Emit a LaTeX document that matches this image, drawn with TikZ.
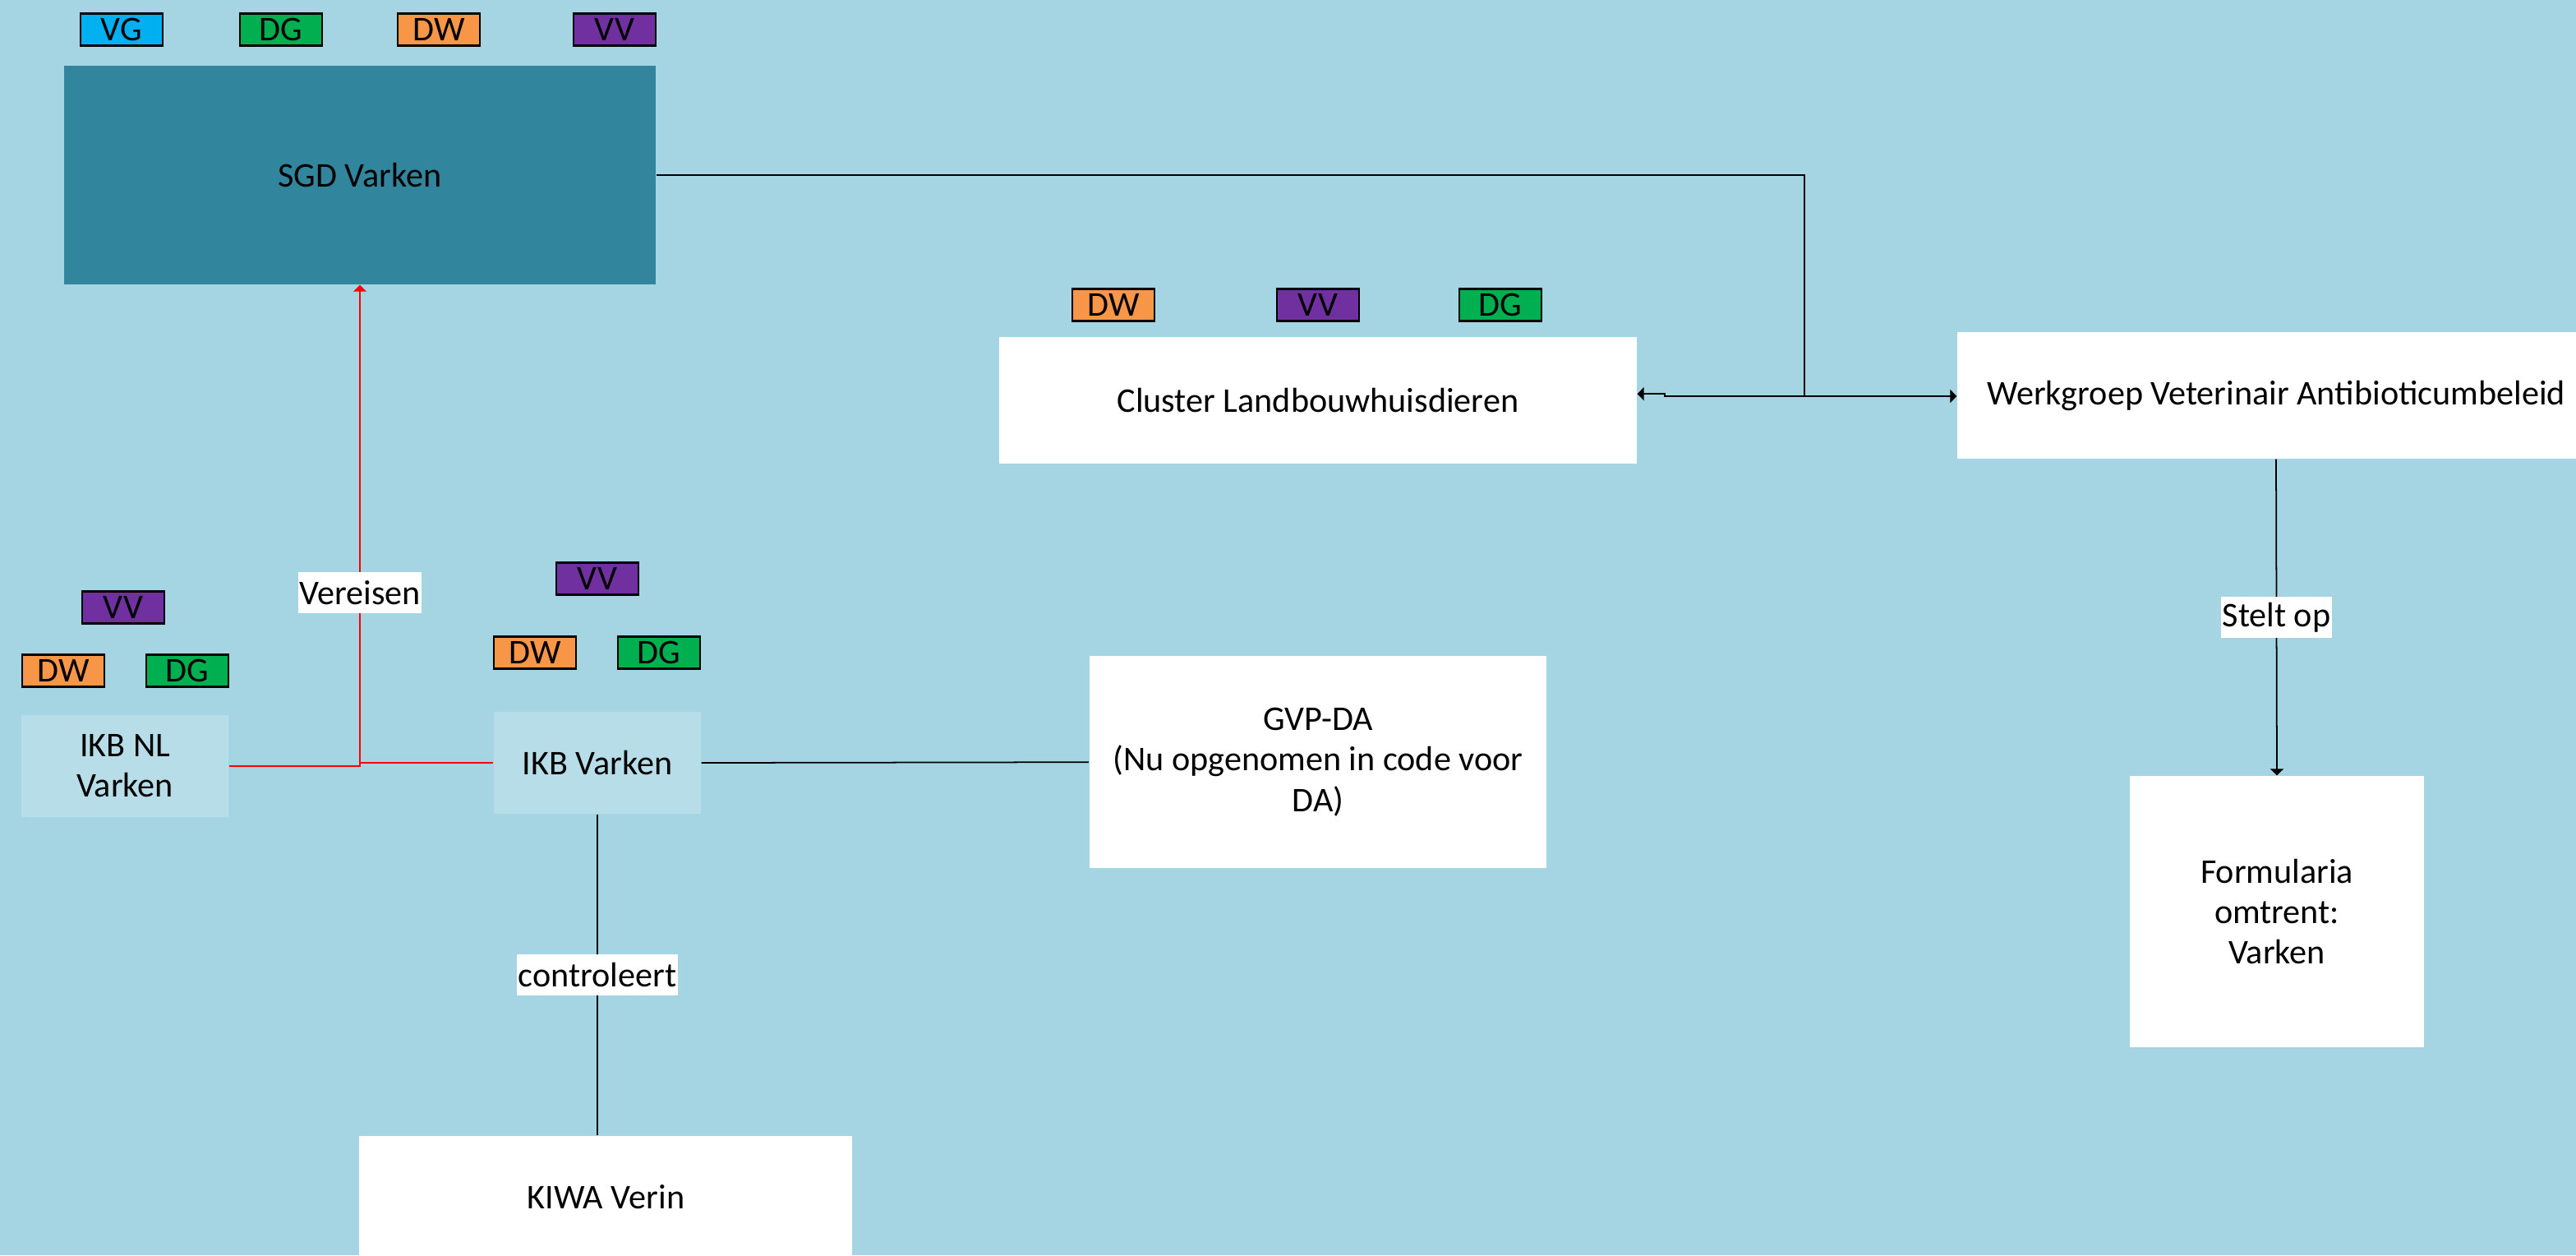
\documentclass[tikz,border=0pt]{standalone}
\usepackage{fontspec}
\setmainfont{Carlito}
\usepackage{tikz}
\usetikzlibrary{positioning, arrows.meta}
\definecolor{bgblue}{HTML}{A5D5E2}
\definecolor{sgdteal}{HTML}{31859C}
\definecolor{boxblue}{HTML}{B7DEE8}
\definecolor{vgcyan}{HTML}{00B0F0}
\definecolor{dggreen}{HTML}{00B050}
\definecolor{dworange}{HTML}{F79646}
\definecolor{vvpurple}{HTML}{7030A0}

\begin{document}
\begin{tikzpicture}[x=0.02cm, y=-0.02cm,
  every node/.style={font=\fontsize{12}{14}\selectfont, align=center},
  box/.style={fill=white, inner sep=0},
  lightbox/.style={fill=boxblue, inner sep=0},
  tag/.style={draw=black, line width=0.6pt, minimum width=1cm, minimum height=0.39cm, inner sep=0},
  lbl/.style={fill=white, inner xsep=0.5pt, inner ysep=0pt, minimum height=0.5cm},
  link/.style={line width=0.5pt},
  tip/.style={-{Triangle[length=0.8mm,width=1.6mm]}}]
\useasboundingbox (0,0) rectangle (1567.5,763.5);
\clip (0,0) rectangle (1567.5,763.5);
\fill[bgblue] (0,0) rectangle (1567.5,763.5);

% boxes
\node[fill=sgdteal, inner sep=0, minimum width=7.2cm, minimum height=2.66cm] (sgd) at (219,106.5) {SGD Varken};
\node[box, minimum width=7.76cm, minimum height=1.54cm] (cluster) at (802,243.5) {Cluster Landbouwhuisdieren};
\node[box, minimum width=7.76cm, minimum height=1.54cm] (werk) at (1385,240.5) {Werkgroep Veterinair Antibioticumbeleid};
\node[box, minimum width=3.58cm, minimum height=3.3cm] (form) at (1385.5,554.5) {Formularia\\omtrent:\\Varken};
\node[lightbox, minimum width=2.52cm, minimum height=1.24cm] (ikbnl) at (76,466) {IKB NL\\Varken};
\node[lightbox, minimum width=2.52cm, minimum height=1.24cm] (ikbv) at (363.5,464) {IKB Varken};
\node[box, minimum width=5.57cm, minimum height=2.58cm] (gvp) at (802,463.6) {GVP-DA\\(Nu opgenomen in code voor\\DA)};
\node[box, minimum width=6cm, minimum height=1.48cm] (kiwa) at (368.7,728) {KIWA Verin};

% tags
\node[tag, fill=vgcyan] (vg0) at (74,18) {VG};
\node[tag, fill=dggreen] (dg0) at (171,18) {DG};
\node[tag, fill=dworange] (dw0) at (267,18) {DW};
\node[tag, fill=vvpurple] (vv0) at (374,18) {VV};

\node[tag, fill=dworange] (dw1) at (677.5,185.5) {DW};
\node[tag, fill=vvpurple] (vv1) at (802,185.5) {VV};
\node[tag, fill=dggreen] (dg1) at (913,185.5) {DG};

\node[tag, fill=vvpurple] (vv2) at (75,369.5) {VV};
\node[tag, fill=dworange] (dw2) at (38.5,408) {DW};
\node[tag, fill=dggreen] (dg2) at (114,408) {DG};

\node[tag, fill=vvpurple] (vv3) at (363.5,352) {VV};
\node[tag, fill=dworange] (dw3) at (325.5,397) {DW};
\node[tag, fill=dggreen] (dg3) at (401,397) {DG};

% connectors
\coordinate (split) at (1098,241);
\coordinate (jog) at (1013,239.6);
\draw[link] (sgd.east) -| (split);
\draw[link, tip] (split) -- (split -| werk.west);
\draw[link, tip] (split) -- (split -| jog) -- (jog) -- (jog -| cluster.east);
\draw[link, tip] (werk.south) -- node[lbl]{Stelt op} (form.north);

\draw[link, red, tip] (ikbnl.east) -| node[lbl, pos=0.68, text=black]{Vereisen} (sgd.south);
\draw[link, red] (ikbv.west) -- (ikbv.west -| sgd.south);
\draw[link] (ikbv.east) -- (gvp.west);
\draw[link] (ikbv.south) -- node[lbl]{controleert} (ikbv.south |- kiwa.north);

\end{tikzpicture}
\end{document}
